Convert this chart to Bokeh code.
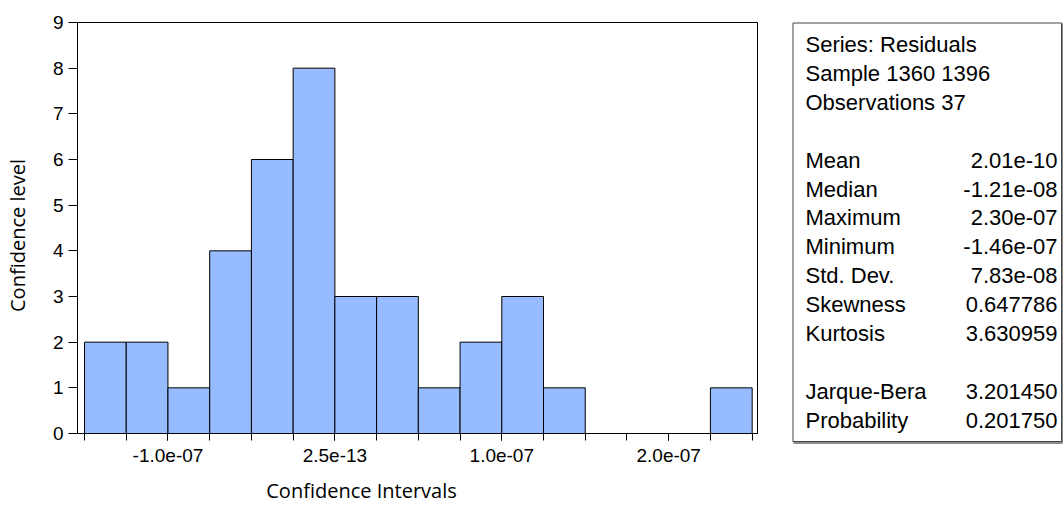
import math
from bokeh.plotting import figure
from bokeh.models import Range1d, FixedTicker, CustomJSTickFormatter
from bokeh.embed import file_html
from bokeh.resources import INLINE
from bokeh.core.properties import value

# ---------------- data ----------------
bin_left = [-1.50e-7, -1.25e-7, -1.00e-7, -0.75e-7, -0.50e-7, -0.25e-7, 0.0, 0.25e-7,
            0.50e-7, 0.75e-7, 1.00e-7, 1.25e-7, 1.50e-7, 1.75e-7, 2.00e-7, 2.25e-7]
bin_right = [-1.25e-7, -1.00e-7, -0.75e-7, -0.50e-7, -0.25e-7, 0.0, 0.25e-7, 0.50e-7,
             0.75e-7, 1.00e-7, 1.25e-7, 1.50e-7, 1.75e-7, 2.00e-7, 2.25e-7, 2.50e-7]
counts = [2, 2, 1, 4, 6, 8, 3, 3, 1, 2, 3, 1, 0, 0, 0, 1]

x_tick_values = [-1.0e-7, 2.5e-13, 1.0e-7, 2.0e-7]
x_tick_labels = ["-1.0e-07", "2.5e-13", "1.0e-07", "2.0e-07"]
y_ticks = [0, 1, 2, 3, 4, 5, 6, 7, 8, 9]

header_lines = ["Series: Residuals", "Sample 1360 1396", "Observations 37"]
stat_names = ["Mean", "Median", "Maximum", "Minimum", "Std. Dev.", "Skewness", "Kurtosis"]
stat_values = ["2.01e-10", "-1.21e-08", "2.30e-07", "-1.46e-07", "7.83e-08", "0.647786", "3.630959"]
test_names = ["Jarque-Bera", "Probability"]
test_values = ["3.201450", "0.201750"]

x_title = "Confidence Intervals"
y_title = "Confidence level"

FONT = "Liberation Sans"
TITLE_FONT = "Open Sans"
BAR_COLOR = "#96BBFF"

# ---------------- histogram ----------------
p = figure(frame_width=680, frame_height=411,
           x_range=Range1d(-1.542e-7, 2.532e-7), y_range=Range1d(0, 9),
           min_border_left=77, min_border_right=21, min_border_top=22, min_border_bottom=73,
           output_backend="svg", toolbar_location=None)
p.background_fill_color = "white"
p.border_fill_color = "white"
p.outline_line_color = "black"
p.outline_line_width = 1
p.xgrid.visible = False
p.ygrid.visible = False

p.quad(left=bin_left, right=bin_right, top=counts, bottom=0,
       fill_color=BAR_COLOR, line_color="black", line_width=1)

xa = p.xaxis[0]
xa.ticker = FixedTicker(ticks=x_tick_values, minor_ticks=bin_left + [bin_right[-1]])
xa.formatter = CustomJSTickFormatter(args=dict(labels=x_tick_labels), code="return labels[index];")
xa.major_tick_out = 7
xa.major_tick_in = 0
xa.minor_tick_out = 7
xa.minor_tick_in = 0
xa.minor_tick_line_color = "black"
xa.major_tick_line_color = "black"
xa.axis_line_color = "black"
xa.major_label_text_font = FONT
xa.major_label_text_font_size = "19px"
xa.major_label_text_color = "black"
xa.major_label_standoff = 8

ya = p.yaxis[0]
ya.ticker = FixedTicker(ticks=y_ticks, minor_ticks=[])
ya.major_tick_out = 9
ya.major_tick_in = 0
ya.major_tick_line_color = "black"
ya.axis_line_color = "black"
ya.major_label_text_font = FONT
ya.major_label_text_font_size = "19px"
ya.major_label_text_color = "black"
ya.major_label_standoff = 5

# ---------------- overlay: titles and statistics box (page pixel coordinates) ----------------
W, H = 1063, 506
q = figure(frame_width=W, frame_height=H, x_range=Range1d(0, W), y_range=Range1d(H, 0),
           min_border=0, output_backend="svg", toolbar_location=None)
q.axis.visible = False
q.grid.visible = False
q.outline_line_color = None
q.background_fill_color = None
q.border_fill_color = None
q.styles = {"position": "absolute", "left": "0px", "top": "0px"}

q.text(x=[361], y=[490], text=[x_title], text_font=value(TITLE_FONT), text_font_size="20px",
       text_color="black", text_align="center", text_baseline="middle")
q.text(x=[17], y=[235], text=[y_title], angle=math.pi / 2, text_font=value(TITLE_FONT),
       text_font_size="20px", text_color="black", text_align="center", text_baseline="middle")

# box with a light shadow
q.line(x=[793, 1062], y=[442.5, 442.5], line_color="#8c8c8c", line_width=2)
q.line(x=[1062, 1062], y=[23, 442.5], line_color="#8c8c8c", line_width=2)
q.quad(left=[792.5], right=[1061], top=[22.5], bottom=[441], fill_color="white",
       line_color="#444444", line_width=1)

row_h = 28.9
y0 = 44
lx, rx = 805, 1057
hy = [y0 + i * row_h for i in range(len(header_lines))]
sy = [y0 + (i + 4) * row_h for i in range(len(stat_names))]
ty = [y0 + (i + 12) * row_h for i in range(len(test_names))]

common = dict(text_font=value(FONT), text_font_size="22px", text_color="black",
              text_baseline="middle")
q.text(x=[lx] * len(header_lines), y=hy, text=header_lines, text_align="left", **common)
q.text(x=[lx] * len(stat_names), y=sy, text=stat_names, text_align="left", **common)
q.text(x=[rx] * len(stat_values), y=sy, text=stat_values, text_align="right", **common)
q.text(x=[lx] * len(test_names), y=ty, text=test_names, text_align="left", **common)
q.text(x=[rx] * len(test_values), y=ty, text=test_values, text_align="right", **common)

open("out.html", "w").write(file_html((p, q), INLINE))
